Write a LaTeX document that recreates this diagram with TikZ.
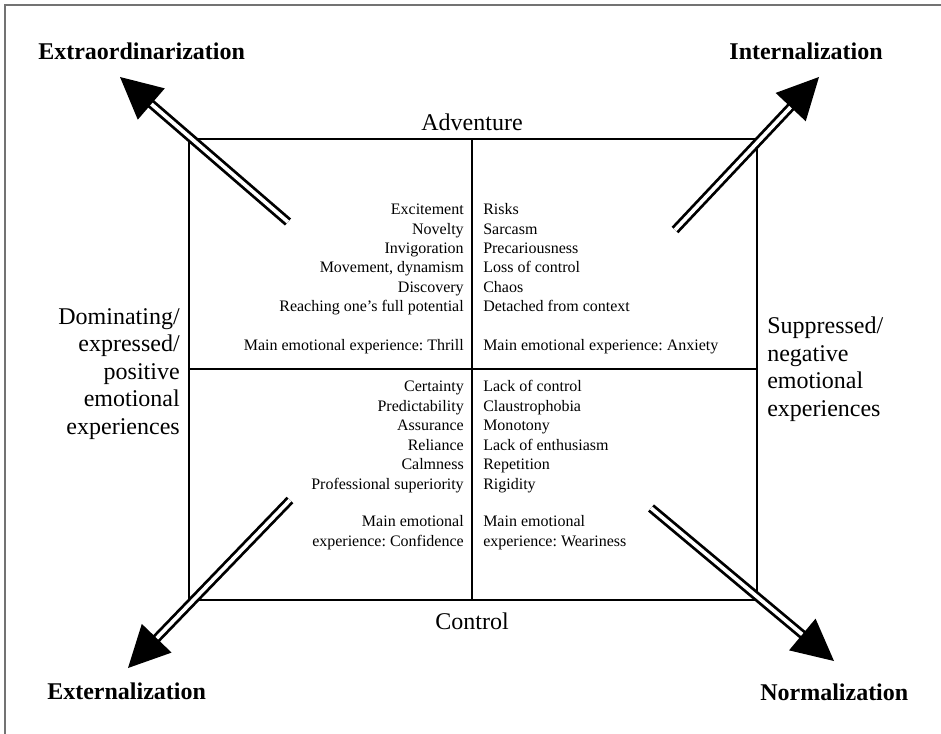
\documentclass[tikz,border=0pt]{standalone}
\usepackage{fontspec}
\setmainfont{Liberation Serif}
\usepackage{tikz,xcolor}
\usetikzlibrary{calc}
\usetikzlibrary{positioning}

\begin{document}
\frenchspacing
\begin{tikzpicture}[x=0.75pt,y=-0.75pt,
    item/.style={font=\fontsize{12}{14.6}\selectfont, inner sep=0pt},
    side/.style={font=\fontsize{18}{20.6}\selectfont, inner sep=0pt},
    pole/.style={font=\fontsize{18}{20}\selectfont\bfseries, inner sep=0pt},
    dbl/.style={draw=black, double=white, line width=2.1pt, double distance=2.8pt}]
    \useasboundingbox (0,0) rectangle (941,734);
    % moldura
    \draw[black!55, line width=0.8pt] (5,734) -- (5,5) -- (941,5);

    % quadro
    \coordinate (nw) at (189,139);
    \coordinate (se) at (757,600);
    \coordinate (top) at (472,139);
    \coordinate (bot) at (472,600);
    \coordinate (lft) at (189,369);
    \coordinate (rgt) at (757,369);
    \draw[line width=2pt] (nw) rectangle (se);
    \draw[line width=2pt] (top) -- (bot);
    \draw[line width=2pt] (lft) -- (rgt);

    % eixos (base = ultima linha)
    \node[side, anchor=base] (adv) at (472,131) {Adventure};
    \node[side, anchor=base] (ctl) at (472,629) {Control};
    \node[side, anchor=base east, align=right] (pos) at (180,434)
        {Dominating/\\expressed/\\positive\\emotional\\experiences};
    \node[side, anchor=base west, align=left] (neg) at (767,416)
        {Suppressed/\\negative\\emotional\\experiences};

    % quadrantes
    \node[item, anchor=base east, align=right] (thrill) at (464,350)
        {Excitement\\Novelty\\Invigoration\\Movement, dynamism\\Discovery\\Reaching one’s full potential\\[14pt]Main emotional experience: Thrill};
    \node[item, anchor=base west, align=left] (anxiety) at (483,350)
        {Risks\\Sarcasm\\Precariousness\\Loss of control\\Chaos\\Detached from context\\[14pt]Main emotional experience: Anxiety};
    \node[item, anchor=base east, align=right] (confid) at (464,546)
        {Certainty\\Predictability\\Assurance\\Reliance\\Calmness\\Professional superiority\\[13.5pt]Main emotional\\experience: Confidence};
    \node[item, anchor=base west, align=left] (weary) at (483,546)
        {Lack of control\\Claustrophobia\\Monotony\\Lack of enthusiasm\\Repetition\\Rigidity\\[13.5pt]Main emotional\\experience: Weariness};

    % polos
    \node[pole, anchor=base west] (extra) at (38,60) {Extraordinarization};
    \node[pole, anchor=base east] (inter) at (883,60) {Internalization};
    \node[pole, anchor=base west] (exter) at (47,699) {Externalization};
    \node[pole, anchor=base west] (norm) at (760,700) {Normalization};

    % setas duplas
    \coordinate (tlA) at (288,222); \coordinate (tlB) at (120,77);
    \coordinate (trA) at (675,230); \coordinate (trB) at (819,77);
    \coordinate (blA) at (290,500); \coordinate (blB) at (128,668);
    \coordinate (brA) at (651,508); \coordinate (brB) at (834,661);
    \foreach \a/\b in {tlA/tlB, trA/trB, blA/blB, brA/brB}{
      \draw[dbl] (\a) -- ($(\b)!24pt!(\a)$);
      \coordinate (base) at ($(\b)!31pt!(\a)$);
      \fill (\b) -- ($(base)!15.5pt!90:(\b)$) -- ($(base)!15.5pt!-90:(\b)$) -- cycle;
    }
\end{tikzpicture}
\end{document}
